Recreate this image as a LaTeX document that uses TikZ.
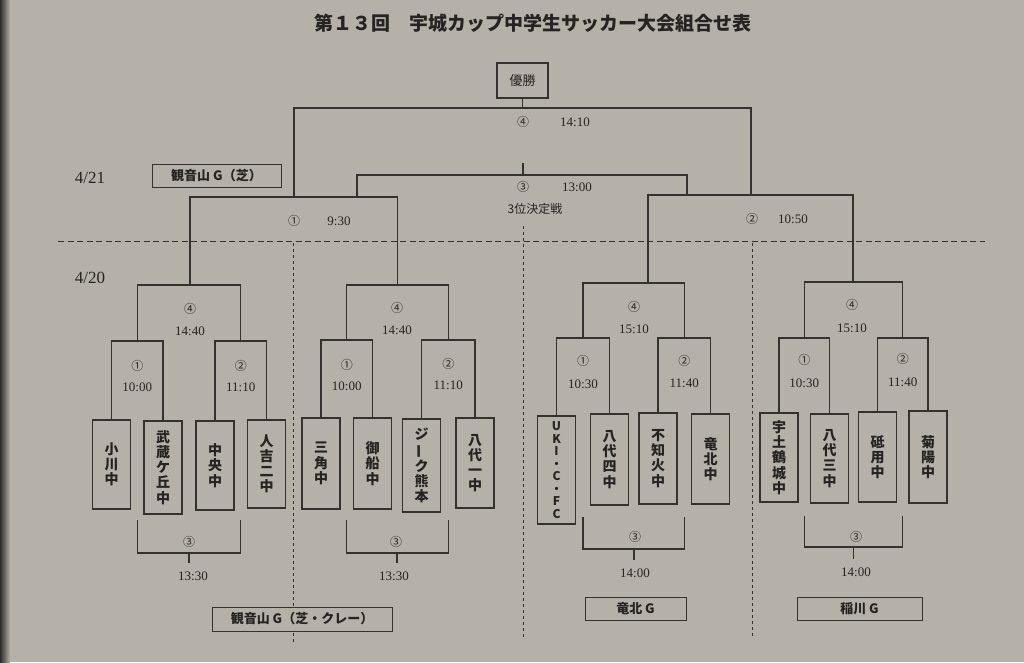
\documentclass[tikz,border=0pt]{standalone}
\usepackage{fontspec}
\usepackage{graphicx}
\setmainfont{Liberation Serif}
\newfontfamily\jp{Noto Sans CJK JP}
\usetikzlibrary{shadows}
\definecolor{paper}{RGB}{181,176,168}
\definecolor{ink}{RGB}{38,36,34}
\definecolor{lin}{RGB}{52,50,47}
\begin{document}
\begin{tikzpicture}[x=1pt,y=-1pt,
  line/.style={draw=lin,line width=1.2pt,line join=miter},
  team/.style={draw=lin,line width=1.1pt,minimum width=38pt,inner sep=0pt,align=center,
     font=\jp\bfseries\fontsize{14}{15.2}\selectfont,text=ink},
  num/.style={font=\fontsize{13}{13}\selectfont,text=ink,inner sep=0pt},
  circ/.style={font=\jp\fontsize{12}{12}\selectfont,text=ink,inner sep=0pt},
  venue/.style={draw=lin,line width=1pt,fill=paper,inner sep=0pt,
     font=\jp\bfseries\fontsize{13}{13}\selectfont,text=ink,
     drop shadow={shadow xshift=1.4pt,shadow yshift=-1.4pt,fill=lin,opacity=1}},
  dashh/.style={draw=lin,line width=1pt,dash pattern=on 6pt off 3.5pt},
  dashv/.style={draw=lin,line width=1pt,dash pattern=on 3pt off 3pt},
]
\fill[paper] (0,0) rectangle (1024,662);
\useasboundingbox (0,0) rectangle (1024,662);
\shade[left color=black!75!paper,right color=paper] (0,0) rectangle (10,662);

% title
\node[font=\jp\bfseries\fontsize{19}{19}\selectfont,text=ink] (title) at (533,23)
  {第１３回　宇城カップ中学生サッカー大会組合せ表};

% dates
\node[font=\fontsize{17}{17}\selectfont,text=ink] (d21) at (90,178) {4/21};
\node[font=\fontsize{17}{17}\selectfont,text=ink] (d20) at (90,278) {4/20};

% dashed separators
\draw[dashh] (58,241) -- (985,241);
\draw[dashv] (293,243) -- (293,645);
\draw[dashv] (523,226) -- (523,638);
\draw[dashv] (752,243) -- (752,638);

% champion
\node[draw=lin,line width=1.2pt,minimum width=51pt,minimum height=35pt,inner sep=0pt,
  font=\jp\fontsize{13}{13}\selectfont,text=ink] (win) at (522.5,80.5) {優勝};

% teams group 1
\node[team,minimum height=89pt] (t1) at (111.5,464.5) {小\\川\\中};
\node[team,minimum height=93pt] (t2) at (163,467.5) {武\\蔵\\ケ\\丘\\中};
\node[team,minimum height=89pt] (t3) at (215,465.5) {中\\央\\中};
\node[team,minimum height=88pt] (t4) at (266.5,464) {人\\吉\\二\\中};
% group 2
\node[team,minimum height=91pt] (t5) at (321,463.5) {三\\角\\中};
\node[team,minimum height=91pt] (t6) at (372.5,463.5) {御\\船\\中};
\node[team,minimum height=93pt] (t7) at (421.5,465.5) {ジ\\\rotatebox[origin=c]{90}{ー}\\ク\\熊\\本};
\node[team,minimum height=90pt] (t8) at (475,463) {八\\代\\一\\中};
% group 3
\node[team,minimum height=108pt,font=\jp\bfseries\fontsize{12}{12.5}\selectfont] (t9) at (556.5,470) {U\\K\\I\\・\\C\\・\\F\\C};
\node[team,minimum height=91pt] (t10) at (609.5,459.5) {八\\代\\四\\中};
\node[team,minimum height=91pt] (t11) at (658,458.5) {不\\知\\火\\中};
\node[team,minimum height=90pt] (t12) at (710.5,459) {竜\\北\\中};
% group 4
\node[team,minimum height=89pt] (t13) at (779,457.5) {宇\\土\\鶴\\城\\中};
\node[team,minimum height=89pt] (t14) at (829.5,458.5) {八\\代\\三\\中};
\node[team,minimum height=90pt] (t15) at (877.5,457) {砥\\用\\中};
\node[team,minimum height=92pt] (t16) at (928,457) {菊\\陽\\中};

% first round match points
\coordinate (m1) at (137.25,341);
\coordinate (m2) at (240.75,341);
\coordinate (m3) at (346.75,340);
\coordinate (m4) at (448.25,340);
\coordinate (m5) at (583,338);
\coordinate (m6) at (684.25,338);
\coordinate (m7) at (804.25,338);
\coordinate (m8) at (902.75,338);

\draw[line] (t1.north) -- (t1.north |- m1) -- (t2.north |- m1) -- (t2.north);
\draw[line] (t3.north) -- (t3.north |- m2) -- (t4.north |- m2) -- (t4.north);
\draw[line] (t5.north) -- (t5.north |- m3) -- (t6.north |- m3) -- (t6.north);
\draw[line] (t7.north) -- (t7.north |- m4) -- (t8.north |- m4) -- (t8.north);
\draw[line] (t9.north) -- (t9.north |- m5) -- (t10.north |- m5) -- (t10.north);
\draw[line] (t11.north) -- (t11.north |- m6) -- (t12.north |- m6) -- (t12.north);
\draw[line] (t13.north) -- (t13.north |- m7) -- (t14.north |- m7) -- (t14.north);
\draw[line] (t15.north) -- (t15.north |- m8) -- (t16.north |- m8) -- (t16.north);

% group finals (4)
\draw[line] (m1) -- (m1 |- 0,285) -- (m2 |- 0,285) -- (m2);
\draw[line] (m3) -- (m3 |- 0,285) -- (m4 |- 0,285) -- (m4);
\draw[line] (m5) -- (m5 |- 0,283) -- (m6 |- 0,283) -- (m6);
\draw[line] (m7) -- (m7 |- 0,282) -- (m8 |- 0,282) -- (m8);

% group tops
\coordinate (g1) at (190,285);
\coordinate (g2) at (397.5,285);
\coordinate (g3) at (648,283);
\coordinate (g4) at (853,282);

% semifinals
\draw[line] (g1) -- (g1 |- 0,197) -- (g2 |- 0,197) -- (g2);
\draw[line] (g3) -- (g3 |- 0,195) -- (g4 |- 0,195) -- (g4);

% final
\coordinate (fl) at (294,197);
\coordinate (fr) at (751,195);
\draw[line] (win.south) -- (win.south |- 0,108);
\draw[line] (fl) -- (fl |- 0,108) -- (fr |- 0,108) -- (fr);

% third place
\coordinate (tl) at (357,197);
\coordinate (tr) at (687,195);
\coordinate (ts) at (523,163);
\draw[line] (ts) -- (ts |- 0,175);
\draw[line] (tl) -- (tl |- 0,175) -- (tr |- 0,175) -- (tr);

% group third-place brackets
\coordinate (b1) at (189,553);
\coordinate (b2) at (397,553);
\coordinate (b3) at (634,549);
\coordinate (b4) at (853.5,547);
\draw[line] (m1 |- 0,520) -- (m1 |- b1) -- (m2 |- b1) -- (m2 |- 0,520);
\draw[line] (b1) -- ++(0,10);
\draw[line] (m3 |- 0,520) -- (m3 |- b2) -- (m4 |- b2) -- (m4 |- 0,520);
\draw[line] (b2) -- ++(0,10);
\draw[line] (m5 |- 0,517) -- (m5 |- b3) -- (m6 |- b3) -- (m6 |- 0,517);
\draw[line] (b3) -- ++(0,11);
\draw[line] (m7 |- 0,516) -- (m7 |- b4) -- (m8 |- b4) -- (m8 |- 0,516);
\draw[line] (b4) -- ++(0,12);

% labels top
\node[circ] (c41) at (523,122) {④}; \node[num] (n41) at (575,122) {14:10};
\node[circ] (c31) at (523,187) {③}; \node[num] (n31) at (577,187) {13:00};
\node[font=\jp\fontsize{12}{12}\selectfont,text=ink] (third) at (535,209) {3位決定戦};
\node[circ] (c11) at (294,221) {①}; \node[num] (n11) at (339,221) {9:30};
\node[circ] (c21) at (752,219) {②}; \node[num] (n21) at (793,219) {10:50};

% group labels
\node[circ] at (190,309) {④}; \node[num] at (190,331) {14:40};
\node[circ] at (137.25,366) {①}; \node[num] at (137.25,387) {10:00};
\node[circ] at (240.75,366) {②}; \node[num] at (240.75,387) {11:10};
\node[circ] at (189,542) {③}; \node[num] at (193,576) {13:30};

\node[circ] at (397,308) {④}; \node[num] at (397,330) {14:40};
\node[circ] at (346.75,365) {①}; \node[num] at (346.75,386) {10:00};
\node[circ] at (448.25,364) {②}; \node[num] at (448.25,385) {11:10};
\node[circ] at (396,542) {③}; \node[num] at (394,576) {13:30};

\node[circ] at (634,307) {④}; \node[num] at (634,329) {15:10};
\node[circ] at (583,361) {①}; \node[num] at (583,384) {10:30};
\node[circ] at (684.25,361) {②}; \node[num] at (684.25,383) {11:40};
\node[circ] at (635,537) {③}; \node[num] at (635,573) {14:00};

\node[circ] at (852,305) {④}; \node[num] at (852,328) {15:10};
\node[circ] at (804.25,360) {①}; \node[num] at (804.25,383) {10:30};
\node[circ] at (902.75,359) {②}; \node[num] at (902.75,382) {11:40};
\node[circ] at (856,537) {③}; \node[num] at (856,572) {14:00};

% venues
\node[venue,minimum width=129pt,minimum height=23pt] (v1) at (216.5,175.5) {観音山 G（芝）};
\node[venue,minimum width=180pt,minimum height=24pt] (v2) at (302,619) {観音山 G（芝・クレー）};
\node[venue,minimum width=101pt,minimum height=23pt] (v3) at (635.5,608.5) {竜北 G};
\node[venue,minimum width=125pt,minimum height=23pt] (v4) at (859.5,608.5) {稲川 G};
\end{tikzpicture}
\end{document}
